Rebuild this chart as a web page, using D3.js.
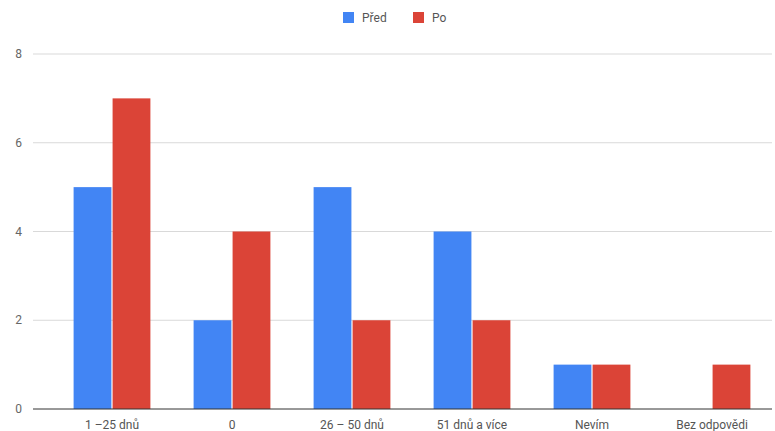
<!DOCTYPE html>
<html>
<head>
<meta charset="utf-8">
<script src="https://cdn.jsdelivr.net/npm/d3@7"></script>
<style>
  body { margin: 0; background: #fff; }
  text { font-family: Roboto, "Noto Sans", Arial, sans-serif; }
</style>
</head>
<body>
<div id="chart"></div>
<script>
const categories = ["1 –25 dnů", "0", "26 – 50 dnů", "51 dnů a více", "Nevím", "Bez odpovědi"];
const seriesNames = ["Před", "Po"];
const predValues = [5, 2, 5, 4, 1, 0];
const poValues = [7, 4, 2, 2, 1, 1];
const yTicks = [0, 2, 4, 6, 8];

const colors = ["#4285F4", "#DB4437"];
const width = 775, height = 431;

const svg = d3.select("#chart").append("svg")
    .attr("width", width)
    .attr("height", height);

const x = d3.scaleBand().domain(categories).range([52, 772]).paddingInner(0.36).paddingOuter(0.18);
const sub = d3.scaleBand().domain(seriesNames).range([0, x.bandwidth()]).paddingInner(0.03);
const y = d3.scaleLinear().domain([0, 8]).range([409, 54]);

// gridlines
svg.append("g").selectAll("line")
    .data(yTicks.filter(d => d > 0))
    .join("line")
    .attr("x1", 33).attr("x2", 772)
    .attr("y1", d => y(d)).attr("y2", d => y(d))
    .attr("stroke", "#d9d9d9").attr("stroke-width", 1);

// y labels
svg.append("g").selectAll("text")
    .data(yTicks)
    .join("text")
    .attr("x", 22).attr("y", d => y(d) + 4)
    .attr("text-anchor", "end")
    .attr("font-size", 12)
    .attr("fill", "#666")
    .text(d => d);

// bars
const data = categories.map((c, i) => ({ cat: c, vals: [predValues[i], poValues[i]] }));
const groups = svg.append("g").selectAll("g")
    .data(data)
    .join("g")
    .attr("transform", d => `translate(${x(d.cat)},0)`);

groups.selectAll("rect")
    .data(d => d.vals.map((v, j) => ({ name: seriesNames[j], v, j })))
    .join("rect")
    .attr("x", d => sub(d.name))
    .attr("width", sub.bandwidth())
    .attr("y", d => y(d.v))
    .attr("height", d => y(0) - y(d.v))
    .attr("fill", d => colors[d.j]);

// baseline
svg.append("line")
    .attr("x1", 33).attr("x2", 772)
    .attr("y1", y(0)).attr("y2", y(0))
    .attr("stroke", "#333").attr("stroke-width", 1);

// x labels
svg.append("g").selectAll("text")
    .data(categories)
    .join("text")
    .attr("x", d => x(d) + x.bandwidth() / 2)
    .attr("y", 429)
    .attr("text-anchor", "middle")
    .attr("font-size", 12)
    .attr("fill", "#555")
    .text(d => d);

// legend
const legend = svg.append("g");
const legendX = [343, 413];
seriesNames.forEach((n, i) => {
    legend.append("rect")
        .attr("x", legendX[i]).attr("y", 12)
        .attr("width", 11).attr("height", 11)
        .attr("fill", colors[i]);
    legend.append("text")
        .attr("x", legendX[i] + 19).attr("y", 22)
        .attr("font-size", 12)
        .attr("fill", "#555")
        .text(n);
});
</script>
</body>
</html>
